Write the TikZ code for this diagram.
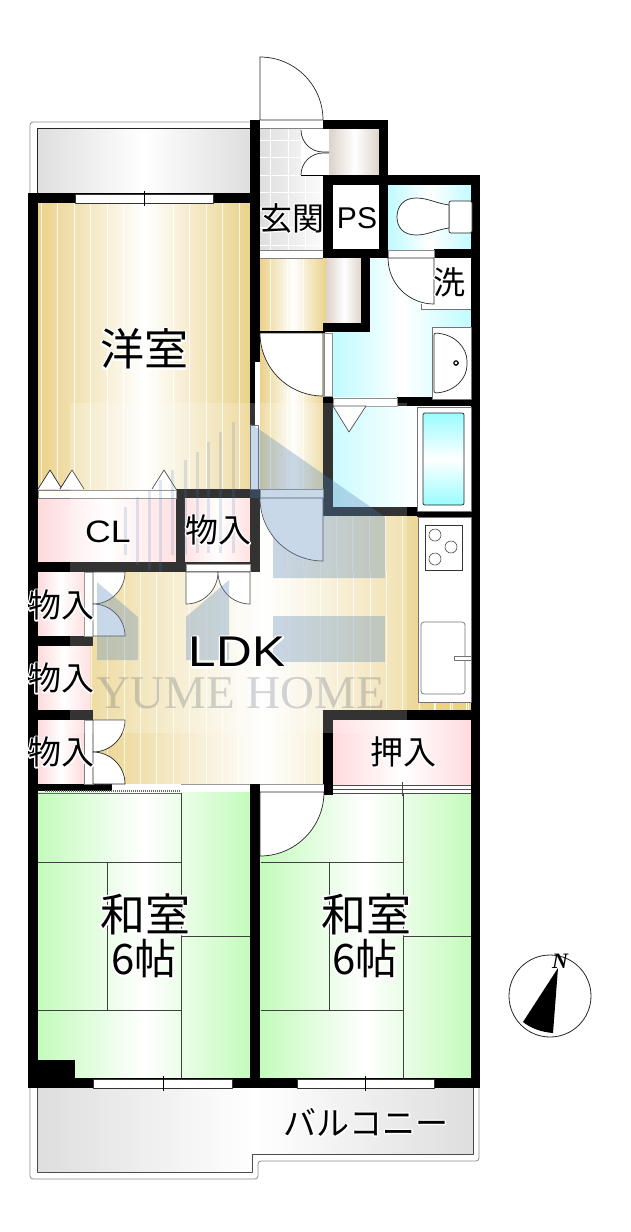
\documentclass[tikz,border=0pt]{standalone}
\usepackage{fontspec}
\newfontfamily\jpfont{Noto Sans CJK JP}
\newfontfamily\jphalo[FakeBold=8]{Noto Sans CJK JP}
\newfontfamily\latinfont[FakeStretch=1.15]{Liberation Sans}
\newfontfamily\latinhalo[FakeStretch=1.15,FakeBold=8]{Liberation Sans}
\newfontfamily\markfont{Liberation Serif}
\newcommand{\jphl}[1]{\leavevmode\rlap{\jphalo\color{white}#1}#1}
\newcommand{\latinhl}[1]{\leavevmode\rlap{\latinhalo\color{white}#1}#1}
\definecolor{woodc}{HTML}{EAD28A}
\definecolor{cyanc}{HTML}{BFFBFF}
\definecolor{pinkc}{HTML}{FFDADC}
\definecolor{greenc}{HTML}{C4FBBC}
\definecolor{beigec}{HTML}{DDD2C8}
\definecolor{grayc}{HTML}{DEDEDE}
\definecolor{tintc}{HTML}{4D7FB4}
\tikzset{
  door/.style={draw=black!85,line width=.7pt,fill=white},
  sill/.style={draw=black!80,line width=.6pt,fill=white},
  fixture/.style={draw=black!55,line width=.7pt,fill=white},
  tatami/.style={draw=black!75,line width=.6pt},
  tint/.style={fill=tintc,fill opacity=.3},
  roomlbl/.style={font=\jpfont\fontsize{#1}{#1}\selectfont,inner sep=0pt,align=center},
  latinlbl/.style={font=\latinfont\fontsize{#1}{#1}\selectfont,inner sep=0pt},
}
\begin{document}
\begin{tikzpicture}[x=1pt,y=-1pt,line join=round]
\useasboundingbox (0,0) rectangle (631,1232);
% balconies
\draw[black!45,line width=.8pt,rounded corners=3pt] (30,195)--(30,122)--(252,122);
\draw[black!45,line width=.8pt,rounded corners=3pt] (30,1086)--(30,1179)--(258,1179)--(258,1161)--(479,1161)--(479,1086);
\shade[left color=grayc,right color=grayc,middle color=white] (37,128) rectangle (250,195);
\draw[black!85,line width=.7pt] (37,195)--(37,128)--(250,128);
\shade[left color=grayc,right color=grayc,middle color=white] (37,1086)--(37,1172)--(252,1172)--(252,1154)--(473,1154)--(473,1086)--cycle;
\draw[black!70,line width=.7pt] (37,1086)--(37,1172)--(252,1172)--(252,1154)--(473,1154)--(473,1086);
% floors
\shade[left color=woodc,right color=woodc,middle color=white] (38,203) rectangle (250,490);
\foreach \x in {41,57.5,...,250} \draw[white,line width=.7pt,opacity=.8] (\x,203)--(\x,490);
\shade[left color=woodc,right color=woodc,middle color=white] (260,258) rectangle (326,490);
\foreach \x in {270,287,303} \draw[white,line width=.7pt,opacity=.8] (\x,258)--(\x,490);
\shade[left color=woodc,right color=woodc,middle color=white] (84,498) rectangle (440,784);
\fill[woodc] (440,695) rectangle (471,711);
\foreach \x in {91,107.4,...,471} \draw[white,line width=.6pt,opacity=.7] (\x,572)--(\x,784);
\foreach \x in {270,287,303,320,336,352,369,385,402} \draw[white,line width=.6pt,opacity=.7] (\x,516)--(\x,572);
\foreach \x in {434,450,466} \draw[white,line width=.6pt] (\x,700)--(\x,711);
\shade[left color=grayc,right color=white] (260,129) rectangle (330,250);
\foreach \x in {270,288,305} \draw[white,line width=.7pt] (\x,129)--(\x,250);
\foreach \y in {140,157,175,192,210,227,245} \draw[white,line width=.7pt] (260,\y)--(323,\y);
\shade[left color=beigec,right color=beigec,middle color=white] (329,129) rectangle (380,175);
\shade[left color=beigec,right color=beigec,middle color=white] (326,258) rectangle (362,323);
\fill[white] (333,185) rectangle (380,250);
\shade[left color=cyanc,right color=cyanc,middle color=white] (388,185) rectangle (472,250);
\shade[left color=cyanc,right color=cyanc,middle color=white] (370,258)--(472,258)--(472,397)--(333,397)--(333,332)--(370,332)--cycle;
\shade[left color=cyanc,right color=white] (333,406) rectangle (417,508);
% closets
\foreach \xa/\ya/\xb/\yb in {38/498/176/562,185/498/250/564,38/572/84/636,38/646/90/710,38/720/84/784,333/720/472/785}
  \shade[left color=pinkc,right color=pinkc,middle color=white] (\xa,\ya) rectangle (\xb,\yb);
% tatami
\shade[left color=greenc,right color=greenc,middle color=white] (38,792) rectangle (250,1078);
\shade[left color=greenc,right color=greenc,middle color=white] (260,792) rectangle (471,1078);
\foreach \dx in {0,222.5}{
  \draw[tatami] (181+\dx,793)--(181+\dx,1078) (38+\dx,862)--(181+\dx,862) (38+\dx,1010)--(181+\dx,1010)
    (107+\dx,862)--(107+\dx,1010) (181+\dx,936)--(250+\dx,936);
}
% walls
\foreach \xa/\ya/\xb/\yb in {28/193/38/1088,28/193/260/203,250/120/260/362,250/362/255/425,323/120/388/129,
  379/120/388/258,323/175/480/185,323/175/333/258,323/249/388/258,434/249/480/258,471/175/480/1088,
  361/258/370/332,323/323/370/332,260/331/325/333,323/397/333/516,323/507/417/516,417/511/471/517,397/397/471/406,
  176/489/260/498,176/489/185/572,28/562/260/572,250/489/260/572,28/636/93/646,28/710/93/720,28/784/112/791,
  323/710/480/720,323/710/333/795,250/784/260/1088,28/1078/480/1088,28/1060/75/1088}
  \fill[black] (\xa,\ya) rectangle (\xb,\yb);
% windows and sills
\draw[sill] (75,194) rectangle (213,203);
\draw[black,line width=.9pt] (144,191)--(144,206);
\draw[sill] (93,1079) rectangle (232,1088);
\draw[black,line width=.7pt] (163,1076)--(163,1091);
\draw[sill] (297,1079) rectangle (434,1088);
\draw[black,line width=.7pt] (365,1076)--(365,1091);
\fill[white] (260,120) rectangle (323,128);
\draw[black!50,line width=.5pt] (260,128)--(323,128);
\fill[white] (260,250) rectangle (323,258);
\draw[black!50,line width=.5pt] (260,250)--(323,250) (260,258)--(323,258);
\draw[sill,draw=black!45] (388,250) rectangle (434,258);
\draw[sill,draw=black!45] (333,398) rectangle (397,406);
\draw[sill,draw=black!45] (324,333) rectangle (332,396);
\draw[sill,draw=black!50] (38,490) rectangle (176,498);
\draw[sill,draw=black!50] (186,564) rectangle (250,571);
\draw[sill,draw=black!50] (260,489) rectangle (323,498);
\draw[sill,draw=black!50] (84,572) rectangle (93,636);
\draw[sill,draw=black!50] (84,720) rectangle (93,784);
\fill[white] (112,784) rectangle (250,792);
\draw[black!60,line width=.5pt] (38,793)--(181,793);
\draw[black!60,line width=2pt,dash pattern=on 1pt off 1pt] (45,790.5)--(181,790.5);
\draw[black!40,line width=.5pt] (181,784)--(250,784);
\fill[white] (260,785) rectangle (324,792);
\draw[black!40,line width=.5pt] (260,784)--(324,784) (260,792)--(324,792);
\fill[white] (333,785) rectangle (471,793);
\draw[black!70,line width=.5pt] (333,785)--(471,785) (333,789)--(471,789) (333,793)--(471,793) (402,782)--(402,796);
\draw[white,line width=.9pt,dash pattern=on 1pt off 1pt] (257,362)--(257,425);
\draw[draw=black!70,fill=white,line width=.5pt] (250,425) rectangle (258,489);
% doors
\draw[door] (260,120)--(323,120) arc[start angle=0,end angle=90,radius=63pt]--cycle;
\fill[white] (301,129) rectangle (329,175);
\draw[door,fill=none] (301,130) arc[start angle=180,end angle=270,radius=22pt]--(329,152);
\draw[door,fill=none] (301,175) arc[start angle=180,end angle=90,radius=22pt]--(329,153);
\draw[black,line width=.7pt] (301,175)--(325,175);
\fill[white] (421,258) rectangle (471,309);
\draw[black!55,line width=.7pt] (421,304)--(421,309)--(471,309);
\draw[door] (434,258)--(388,258) arc[start angle=180,end angle=270,radius=46pt]--cycle;
\draw[door] (323,333)--(260,333) arc[start angle=180,end angle=270,radius=63pt]--cycle;
\draw[door] (323,498)--(260,498) arc[start angle=180,end angle=270,radius=63pt]--cycle;
\draw[door] (186,572)--(218,572) arc[start angle=0,end angle=-90,radius=32pt]--cycle;
\draw[door] (250,572)--(218,572) arc[start angle=180,end angle=270,radius=32pt]--cycle;
\foreach \y in {572,720}{
  \draw[door] (93,\y)--(125,\y) arc[start angle=0,end angle=-90,radius=32pt]--cycle;
  \draw[door] (93,\y+64)--(125,\y+64) arc[start angle=0,end angle=90,radius=32pt]--cycle;
}
\draw[door] (260,792)--(324,792) arc[start angle=0,end angle=-90,radius=64pt]--cycle;
% folding closet doors and bath door
\foreach \x in {50,72,164} \draw[door] (\x-12,489)--(\x,470)--(\x+12,489);
\draw[door] (333,406)--(366,406)--(349,432)--cycle;
% fixtures
\draw[door,rounded corners=2pt] (449,201) rectangle (472,233);
\draw[door] (449,205) .. controls (435,203) and (428,198) .. (416,198) .. controls (403,198) and (397,207) .. (397,217)
  .. controls (397,227) and (403,235) .. (416,235) .. controls (428,235) and (435,230) .. (449,228)--cycle;
\draw[fixture] (432,327) rectangle (471,399);
\draw[door,rounded corners=2pt] (434,333) .. controls (455,334) and (467,348) .. (467,363) .. controls (467,378) and (455,392) .. (434,393)--cycle;
\draw[black,line width=1.2pt,fill=white] (456,363) circle[radius=2.2pt];
\draw[fixture] (417,407) rectangle (471,511);
\shade[top color=cyanc!80!cyan,bottom color=cyanc!80!cyan,middle color=white,rounded corners=2pt] (423,413) rectangle (464,505);
\draw[black!85,line width=.7pt,rounded corners=2pt] (423,413) rectangle (464,505);
\draw[fixture] (418,517) rectangle (471,702);
\draw[black!80,line width=.6pt] (425,525) rectangle (462,570);
\foreach \cx/\cy in {435/535,451/547,435/559} \draw[black!70,line width=.6pt] (\cx,\cy) circle[radius=6pt];
\draw[black!55,line width=.7pt,rounded corners=3pt] (421,622) rectangle (465,694);
\draw[black!55,line width=.6pt,fill=white] (454,656) rectangle (471,660);
% watermark
\fill[white,fill opacity=.2] (70,403) rectangle (407,733);
\fill[tint] (250,423)--(385,517)--(385,578)--(273,578)--(273,536)--(260,498)--(250,498)--cycle;
\fill[tint] (273,536) .. controls (266,526) and (260,512) .. (260,498)--cycle;
\fill[tint] (273,616) rectangle (385,662);
\fill[tint] (97,582)--(138,617)--(138,660)--(97,660)--cycle;
\fill[tint] (186,617)--(229,580)--(229,660)--(186,660)--cycle;
\foreach \x/\yt/\yb in {125/507/555,137/497/565,149/490/570,160/480/572,172/470/555,185/460/555,197/452/553,208/442/553,220/432/553,233/422/553}
  \fill[tintc,fill opacity=.18] (\x-1.5,\yt) rectangle (\x+1.5,\yb);
\node[font=\markfont\fontsize{47}{47}\selectfont,text=black!60!tintc,text opacity=.2,inner sep=0pt] (mark) at (241,693) {YUME HOME};
% labels
\node[roomlbl=44] (yoshitsu) at (144,349) {\jphl{洋室}};
\node[roomlbl=32] (genkan) at (292,218) {\jphl{玄関}};
\node[font=\fontspec{Liberation Sans}\fontsize{30}{30}\selectfont,inner sep=0pt] (ps) at (357,218) {PS};
\node[roomlbl=32] (sen) at (449,282) {\jphl{洗}};
\node[latinlbl=31] (cl) at (108,532) {\latinhl{CL}};
\node[roomlbl=33] (mono1) at (218,530) {\jphl{物入}};
\node[roomlbl=33] (mono2) at (61,605) {\jphl{物入}};
\node[roomlbl=33] (mono3) at (61,678) {\jphl{物入}};
\node[roomlbl=33] (mono4) at (61,752) {\jphl{物入}};
\node[latinlbl=43] (ldk) at (237,652) {\latinhl{LDK}};
\node[roomlbl=33] (oshiire) at (403,752) {\jphl{押入}};
\node[roomlbl=45] (washitsu1a) at (145,914) {\jphl{和室}};
\node[roomlbl=42] (washitsu1b) at (144,959) {\jphl{6帖}};
\node[roomlbl=45] (washitsu2a) at (366,914) {\jphl{和室}};
\node[roomlbl=42] (washitsu2b) at (365,959) {\jphl{6帖}};
\node[roomlbl=33] (balcony) at (366,1122) {\jphl{バルコニー}};
% north mark
\draw[black!85,line width=.8pt,fill=white] (550,996) circle[radius=41pt];
\fill[black] (558,968)--(523,1022) .. controls (532,1029) and (542,1032) .. (553,1033)--cycle;
\node[font=\markfont\bfseries\itshape\fontsize{22}{22}\selectfont,inner sep=0pt] (north) at (560,961) {N};
\end{tikzpicture}
\end{document}
